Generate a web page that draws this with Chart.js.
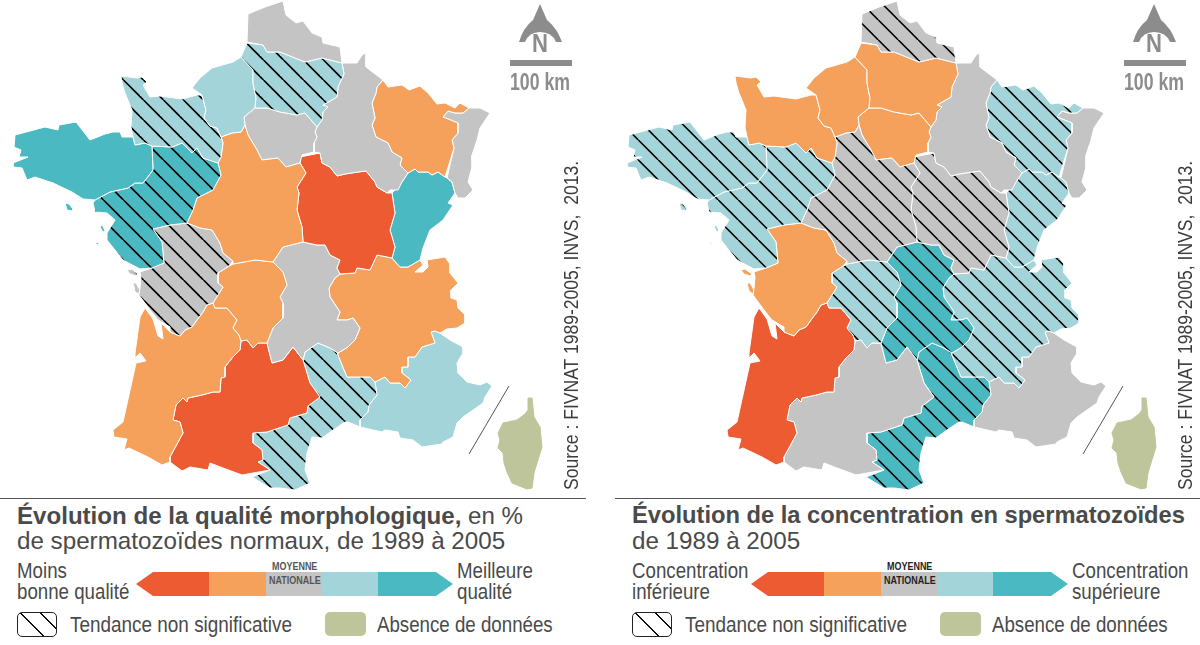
<!DOCTYPE html>
<html lang="fr">
<head>
<meta charset="utf-8">
<title>Qualité du sperme en France</title>
<script src="https://cdn.jsdelivr.net/npm/chart.js@4/dist/chart.umd.min.js"></script>
<style>
  html, body { margin: 0; padding: 0; background: #fff; }
  #page { position: relative; width: 1200px; height: 645px; overflow: hidden; font-family: "Liberation Sans", sans-serif; color: #4a4a4a; }
  canvas { position: absolute; top: 0; }
  #page span { position: absolute; white-space: nowrap; }
  .box { position: absolute; }
</style>
</head>
<body>
<div id="page">
  <canvas id="mapLeft" style="left:0"></canvas>
  <canvas id="mapRight" style="left:614px"></canvas>
</div>
<script>
// outlines of the regions (map pixels)
const nord = [[248,14],[265,7],[283,1],[286,15],[296,23],[303,21],[312,33],[322,37],[323,43],[340,47],[342,63],[322,58],[305,62],[280,52],[267,52],[263,45],[247,42]];
const picardie = [[247,43],[263,45],[267,52],[280,52],[305,62],[322,58],[342,63],[344,74],[338,87],[337,97],[323,105],[328,107],[323,112],[322,120],[317,127],[305,113],[297,115],[280,112],[267,108],[255,108],[256,98],[253,83],[253,70],[241,57]];
const hauteNormandie = [[241,57],[233,62],[212,68],[200,78],[192,88],[202,95],[206,110],[204,118],[210,126],[217,128],[221,137],[232,133],[241,132],[245,125],[244,117],[255,108],[256,98],[253,83],[253,70]];
const basseNormandie = [[121,76],[137,78],[142,77],[147,82],[143,85],[150,97],[160,96],[182,99],[197,95],[202,95],[206,110],[204,118],[210,126],[217,128],[221,137],[223,143],[221,157],[218,163],[203,158],[197,148],[192,153],[182,143],[172,147],[152,146],[145,143],[135,145],[133,137],[131,127],[132,110],[125,93],[122,83]];
const bretagne = [[133,137],[122,137],[120,132],[113,132],[105,134],[90,140],[76,122],[59,125],[58,130],[45,127],[15,135],[14,147],[21,150],[19,157],[28,157],[13,163],[13,167],[22,168],[27,180],[35,177],[53,183],[72,192],[83,199],[95,200],[110,192],[128,188],[135,183],[143,183],[153,170],[152,146],[145,143],[135,145]];
const paysLoire = [[152,146],[172,147],[182,143],[192,153],[197,148],[203,158],[218,163],[221,175],[213,190],[197,198],[193,210],[187,223],[170,225],[153,229],[162,242],[164,263],[152,268],[140,269],[123,260],[107,240],[107,233],[115,220],[107,213],[95,212],[93,203],[95,200],[110,192],[128,188],[135,183],[143,183],[153,170]];
const centre = [[221,137],[232,133],[241,132],[245,125],[248,135],[257,150],[262,160],[278,158],[286,167],[300,163],[306,173],[297,187],[299,193],[297,210],[302,227],[303,242],[283,247],[273,262],[255,260],[233,264],[233,261],[223,253],[220,243],[212,230],[200,228],[187,223],[193,210],[197,198],[213,190],[221,175],[218,163],[221,157],[223,143]];
const ileDeFrance = [[244,117],[255,108],[267,108],[280,112],[297,115],[305,113],[317,127],[315,132],[317,137],[314,143],[314,152],[302,155],[300,163],[286,167],[278,158],[262,160],[257,150],[248,135],[245,125]];
const champagne = [[342,63],[357,63],[362,55],[366,53],[366,67],[383,80],[377,87],[376,93],[372,103],[375,118],[372,125],[376,137],[388,143],[392,152],[402,158],[400,165],[408,173],[402,182],[398,190],[390,190],[387,193],[382,190],[377,187],[375,182],[366,171],[358,172],[345,174],[337,176],[330,167],[322,163],[320,153],[314,152],[314,143],[317,137],[315,132],[317,127],[322,120],[323,112],[328,107],[323,105],[337,97],[338,87],[344,74]];
const lorraine = [[383,80],[388,87],[402,85],[409,90],[420,86],[428,93],[437,104],[445,103],[455,108],[460,103],[469,108],[463,113],[455,113],[448,111],[443,117],[458,123],[458,133],[452,140],[454,148],[445,177],[438,172],[432,175],[428,172],[418,172],[415,169],[408,173],[400,165],[402,158],[392,152],[388,143],[376,137],[372,125],[375,118],[372,103],[376,93],[377,87]];
const alsace = [[469,108],[480,108],[490,113],[480,128],[477,140],[472,155],[472,167],[468,182],[473,190],[465,198],[458,198],[455,193],[452,182],[447,178],[454,148],[452,140],[458,133],[458,123],[443,117],[448,111],[455,113],[463,113]];
const franche = [[408,173],[415,169],[418,172],[428,172],[432,175],[438,172],[445,177],[447,178],[452,182],[455,193],[448,203],[453,205],[443,220],[430,230],[423,248],[420,260],[408,267],[400,267],[392,258],[395,247],[390,230],[395,213],[392,193],[402,182]];
const bourgogne = [[300,157],[320,153],[322,163],[330,167],[337,176],[345,174],[358,172],[366,171],[375,182],[377,187],[382,190],[387,193],[392,193],[395,213],[390,230],[395,247],[392,258],[377,255],[370,270],[357,268],[355,273],[340,274],[337,268],[340,260],[330,255],[325,245],[317,245],[303,242],[302,227],[297,210],[299,193],[297,187],[306,173],[300,163]];
const poitou = [[153,229],[170,225],[187,223],[200,228],[212,230],[220,243],[223,253],[233,261],[230,265],[226,268],[218,273],[218,283],[223,287],[218,295],[213,303],[207,305],[203,312],[197,320],[192,327],[185,330],[180,336],[170,332],[170,327],[158,320],[150,310],[139,295],[140,288],[141,277],[140,272],[152,268],[164,263],[162,242]];
const limousin = [[233,264],[255,260],[273,262],[283,272],[287,285],[280,297],[283,303],[283,318],[273,328],[267,343],[258,343],[253,348],[247,340],[241,341],[239,335],[233,328],[237,320],[227,308],[215,308],[213,303],[218,295],[223,287],[218,283],[218,273],[226,268]];
const auvergne = [[273,262],[283,247],[303,242],[317,245],[325,245],[330,255],[340,260],[337,268],[340,274],[335,278],[329,288],[330,297],[340,312],[337,320],[347,320],[353,318],[360,328],[355,340],[348,347],[338,353],[330,348],[318,343],[305,352],[303,360],[293,347],[283,360],[272,363],[267,343],[273,328],[283,318],[283,303],[280,297],[287,285],[283,272]];
const rhoneAlpes = [[340,274],[355,273],[357,268],[370,270],[377,255],[392,258],[400,267],[408,267],[420,260],[423,265],[415,272],[423,272],[428,267],[427,260],[445,257],[450,264],[450,273],[458,283],[451,290],[451,298],[457,300],[458,308],[465,315],[465,323],[457,328],[447,329],[440,333],[435,331],[431,332],[435,343],[422,347],[415,357],[408,357],[408,367],[402,367],[402,373],[411,380],[405,388],[400,383],[390,383],[385,377],[375,382],[370,377],[353,377],[347,377],[338,355],[338,353],[348,347],[355,340],[360,328],[353,318],[347,320],[337,320],[340,312],[330,297],[329,288],[335,278]];
const aquitaine = [[145,308],[153,319],[158,336],[163,339],[161,323],[170,332],[180,336],[185,330],[192,327],[197,320],[203,312],[207,305],[213,303],[215,308],[227,308],[237,320],[233,328],[239,335],[241,341],[240,350],[232,358],[225,367],[225,377],[221,378],[220,392],[213,392],[202,395],[188,398],[187,402],[183,398],[176,405],[173,420],[180,422],[183,433],[170,457],[170,462],[162,465],[148,457],[129,448],[124,450],[127,439],[114,437],[113,430],[123,422],[136,363],[146,361],[140,353],[135,358],[135,353],[140,317]];
const midiPyrenees = [[241,341],[247,340],[253,348],[258,343],[267,343],[272,363],[283,360],[293,347],[303,360],[310,383],[315,390],[320,397],[308,406],[307,413],[290,418],[288,425],[267,432],[253,433],[253,443],[262,450],[263,460],[258,462],[270,470],[253,473],[242,475],[223,468],[210,463],[208,470],[190,467],[182,471],[170,462],[170,457],[183,433],[180,422],[173,420],[176,405],[183,398],[187,402],[188,398],[202,395],[213,392],[220,392],[221,378],[225,377],[225,367],[232,358],[240,350]];
const languedoc = [[303,360],[305,352],[318,343],[330,348],[338,353],[338,355],[347,377],[353,377],[370,377],[375,382],[377,395],[369,405],[368,412],[360,420],[360,427],[348,422],[345,422],[333,430],[322,438],[312,437],[307,453],[305,470],[310,483],[295,490],[280,488],[270,488],[252,477],[270,470],[258,462],[263,460],[262,450],[253,443],[253,433],[267,432],[288,425],[290,418],[307,413],[308,406],[320,397],[315,390],[310,383]];
const paca = [[375,382],[385,377],[390,383],[400,383],[405,388],[411,380],[402,373],[402,367],[408,367],[408,357],[415,357],[422,347],[435,343],[431,332],[435,331],[440,333],[450,340],[463,347],[463,353],[457,363],[458,373],[467,382],[480,385],[487,382],[492,386],[485,397],[483,403],[473,410],[463,417],[457,423],[453,437],[443,442],[442,444],[422,447],[413,440],[400,438],[398,432],[385,430],[382,432],[360,427],[360,420],[368,412],[369,405],[377,395]];
const corse = [[528,398],[532,398],[534,417],[540,427],[542,447],[537,463],[534,473],[532,488],[527,489],[512,483],[507,472],[504,463],[503,453],[498,448],[500,440],[498,433],[503,423],[517,420],[525,414],[528,410]];

// small pieces that belong to a region
const belleIle = [[65,203],[69,204],[73,209],[72,211],[67,210]];
const noirmoutier = [[100,225],[103,226],[105,231],[103,232],[101,229]];
const yeu = [[96,242],[99,243],[98,245],[96,244]];
const ileRe = [[127,270],[131,269],[138,274],[136,276],[130,274]];
const oleron = [[133,283],[136,283],[140,290],[139,294],[135,291]];
const enclave = [[377,374],[384,372],[385,376],[379,378]];
const lacA = [[173,439],[175,441],[173,443],[171,441]];
const lacB = [[177,435],[179,437],[177,439],[175,437]];

const regionNames = ["Nord-Pas-de-Calais", "Picardie", "Haute-Normandie", "Basse-Normandie", "Bretagne", "Pays de la Loire", "Centre", "Île-de-France", "Champagne-Ardenne", "Lorraine", "Alsace", "Bourgogne", "Franche-Comté", "Poitou-Charentes", "Limousin", "Auvergne", "Rhône-Alpes", "Aquitaine", "Midi-Pyrénées", "Languedoc-Roussillon", "PACA"];
const regionShapes = [[nord], [picardie], [hauteNormandie], [basseNormandie], [bretagne, belleIle], [paysLoire, noirmoutier, yeu], [centre], [ileDeFrance], [champagne], [lorraine], [alsace], [bourgogne], [franche], [poitou, ileRe, oleron], [limousin], [auvergne], [rhoneAlpes, enclave], [aquitaine], [midiPyrenees], [languedoc], [paca]];

// class of each region: -2 .. 2, 0 is the national average
const morphoClass = [0, 1, 1, 1, 2, 2, -1, 0, 0, -1, 0, -2, 2, 0, -1, 0, -1, -1, -2, 1, 1];
const morphoHatched = [0, 1, 0, 1, 0, 1, 0, 0, 0, 0, 0, 0, 0, 1, 0, 0, 0, 0, 0, 1, 0];
const concClass = [0, -1, -1, -1, 1, 1, 0, -1, 0, 1, 0, 0, 1, -1, 1, 2, 1, -2, 0, 2, 0];
const concHatched = [1, 0, 0, 0, 1, 1, 1, 0, 0, 1, 0, 1, 1, 0, 1, 1, 1, 0, 0, 1, 0];

const scaleLabelsMorpho = ["Moins", "bonne qualité", "Meilleure", "qualité"];
const scaleLabelsConc = ["Concentration", "inférieure", "Concentration", "supérieure"];

const classColors = { "-2": "#ec5b32", "-1": "#f5a15c", 0: "#c4c4c4", 1: "#a2d4d9", 2: "#4bb9c1" };
const noDataColor = "#bfc59a";

// diagonal hatch, shift puts the lines where the original has them
function hatch(color, shift) {
  const tile = document.createElement("canvas");
  tile.width = 20;
  tile.height = 20;
  const c = tile.getContext("2d");
  c.fillStyle = color;
  c.fillRect(0, 0, 20, 20);
  c.strokeStyle = "#000";
  c.lineWidth = 1.6;
  for (let k = -40; k <= 40; k += 20) {
    c.beginPath();
    c.moveTo(k + shift, 0);
    c.lineTo(k + shift + 20, 20);
    c.stroke();
  }
  return c.createPattern(tile, "repeat");
}

function polygon(points, fillStyle, border) {
  return {
    data: points.concat([points[0]]).map((p) => ({ x: p[0], y: p[1] })),
    fill: "shape",
    backgroundColor: fillStyle,
    borderColor: border,
    borderWidth: 1,
    pointRadius: 0,
    tension: 0,
  };
}

function drawMap(id, classes, hatched, shift, width) {
  const canvas = document.getElementById(id);
  canvas.style.width = width + "px";
  canvas.style.height = "495px";
  canvas.width = width;
  canvas.height = 495;
  const datasets = [];
  regionShapes.forEach((parts, i) => {
    const color = classColors[classes[i]];
    const style = hatched[i] ? hatch(color, shift) : color;
    parts.forEach((part) => datasets.push(polygon(part, style, "#fff")));
  });
  datasets.push(polygon(corse, noDataColor, noDataColor));
  [lacA, lacB].forEach((lac) => datasets.push(polygon(lac, classColors[classes[17]], "#fff")));
  // the line between Corsica and the mainland
  datasets.push({
    data: [{ x: 469, y: 454 }, { x: 509, y: 386 }],
    borderColor: "#555",
    borderWidth: 1,
    pointRadius: 0,
    fill: false,
  });
  new Chart(canvas, {
    type: "line",
    data: { datasets },
    options: {
      responsive: false,
      animation: false,
      events: [],
      layout: { padding: 0 },
      plugins: { legend: { display: false }, tooltip: { enabled: false } },
      scales: {
        x: { type: "linear", min: 0, max: width, display: false },
        y: { type: "linear", min: 0, max: 495, reverse: true, display: false },
      },
    },
  });
}

const page = document.getElementById("page");

// squeeze: the original uses a condensed face, none is installed
function addText(text, x, y, size, opts = {}) {
  const el = document.createElement("span");
  el.innerHTML = text;
  el.style.left = x + "px";
  el.style.top = y + "px";
  el.style.fontSize = size + "px";
  el.style.lineHeight = "1";
  if (opts.bold) el.style.fontWeight = "700";
  if (opts.color) el.style.color = opts.color;
  if (opts.squeeze) {
    el.style.transform = "scaleX(" + opts.squeeze + ")";
    el.style.transformOrigin = "0 0";
  }
  page.appendChild(el);
  return el;
}

function addBox(x, y, w, h, background, extra = "") {
  const el = document.createElement("div");
  el.className = "box";
  el.style.cssText = `left:${x}px;top:${y}px;width:${w}px;height:${h}px;background:${background};${extra}`;
  page.appendChild(el);
  return el;
}

function compass(dx) {
  const svg = document.createElementNS("http://www.w3.org/2000/svg", "svg");
  svg.setAttribute("width", "70");
  svg.setAttribute("height", "50");
  svg.style.cssText = `position:absolute;left:${dx + 505}px;top:0`;
  svg.innerHTML = '<path fill="#8c8c8c" d="M35 4 L42 20 Q52 28 57 42 L51 42 Q47 32 35 32 Q24 32 20 42 L14 42 Q18 28 28 20 Z"/>';
  page.appendChild(svg);
  addText("N", dx + 532, 30, 26, { bold: true, color: "#8c8c8c", squeeze: 0.85 });
  addBox(dx + 510, 60, 62, 6, "#8c8c8c");
  addText("100 km", dx + 510, 71, 23, { bold: true, color: "#8c8c8c", squeeze: 0.77 });
  const src = addText("Source : FIVNAT 1989-2005, INVS,&nbsp; 2013.", dx + 562, 490, 19.5, { color: "#3c3c3c" });
  src.style.transformOrigin = "0 0";
  src.style.transform = "rotate(-90deg) scaleX(0.9)";
}

function legend(dx, title, titleSize, sub, labels, avgColor) {
  addBox(dx, 498, 586, 1, "#555");
  addText(title, dx + 17, 504, titleSize);
  addText(sub, dx + 17, 529, 24.2);
  addText(labels[0], dx + 17, 560, 22, { squeeze: 0.85 });
  addText(labels[1], dx + 17, 581, 22, { squeeze: 0.85 });
  addText(labels[2], dx + 457, 560, 22, { squeeze: 0.85 });
  addText(labels[3], dx + 457, 581, 22, { squeeze: 0.85 });
  const bar = addBox(dx + 136, 572, 317, 24, "none", "display:flex;clip-path:polygon(0 50%,17px 0,300px 0,100% 50%,300px 100%,17px 100%)");
  [[73, -2], [57, -1], [56, 0], [56, 1], [75, 2]].forEach((s) => {
    const seg = document.createElement("div");
    seg.style.cssText = `width:${s[0]}px;height:24px;background:${classColors[s[1]]}`;
    bar.appendChild(seg);
  });
  addText("MOYENNE", dx + 272, 561, 11.5, { bold: true, color: avgColor, squeeze: 0.78 });
  addText("NATIONALE", dx + 269, 575, 11.5, { bold: true, color: avgColor, squeeze: 0.78 });
  addBox(dx + 17, 612, 38, 23, "linear-gradient(45deg,#fff 0 17px,#111 17px 18.5px,#fff 18.5px 31.5px,#111 31.5px 33px,#fff 33px)", "border:1px solid #222;border-radius:5px");
  addText("Tendance non significative", dx + 70, 614, 22, { squeeze: 0.86 });
  addBox(dx + 325, 612, 41, 24, noDataColor, "border-radius:5px");
  addText("Absence de données", dx + 377, 614, 22, { squeeze: 0.85 });
}

drawMap("mapLeft", morphoClass, morphoHatched, 3.5, 600);
drawMap("mapRight", concClass, concHatched, 4.3, 586);
compass(0);
compass(614);
legend(0, "<b>Évolution de la qualité morphologique,</b> en %", 24.1, "de spermatozoïdes normaux, de 1989 à 2005", scaleLabelsMorpho, "#555");
legend(615, "<b>Évolution de la concentration en spermatozoïdes</b>", 23.7, "de 1989 à 2005", scaleLabelsConc, "#222");
</script>
</body>
</html>
